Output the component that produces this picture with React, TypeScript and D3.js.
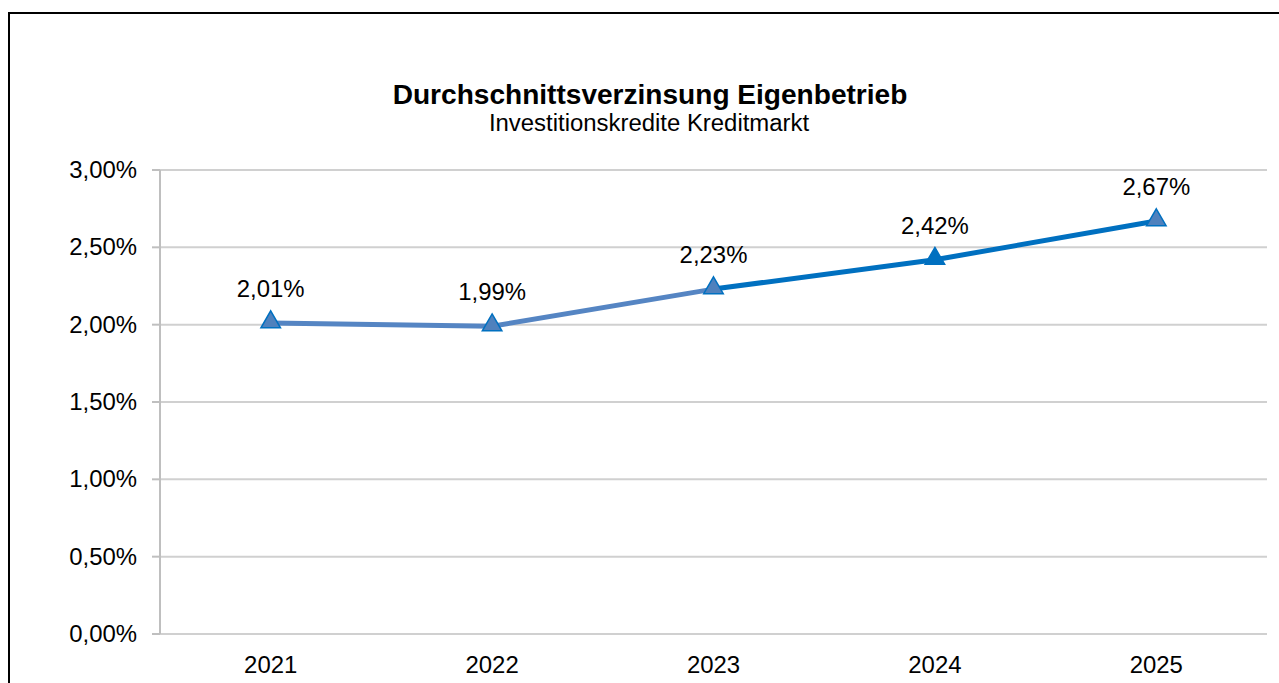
import React from "react";
import * as d3 from "d3";

const years = ["2021", "2022", "2023", "2024", "2025"];
const rates = [2.01, 1.99, 2.23, 2.42, 2.67];
const yTicks = [0, 0.5, 1, 1.5, 2, 2.5, 3];
const title = "Durchschnittsverzinsung Eigenbetrieb";
const subtitle = "Investitionskredite Kreditmarkt";

const W = 1279;
const H = 683;
const M = { left: 160, right: 1267, top: 170, bottom: 634 };
const FONT = "'Liberation Sans', Arial, sans-serif";
const SX = 1.04;
const segColor = (i: number) => (i < 2 ? "#5585C3" : "#0070C0");
const markerFill = (i: number) => (i === 3 ? "#0070C0" : "#4F81BD");

const fmt = (v: number) => v.toFixed(2).replace(".", ",") + "%";

function T({ x, y, anchor = "middle", size = 23, weight = "normal", sx = SX, children }: any) {
  return (
    <text
      transform={`translate(${x},${y}) scale(${sx},1)`}
      textAnchor={anchor}
      fontSize={size}
      fontWeight={weight}
      fontFamily={FONT}
      fill="#000"
    >
      {children}
    </text>
  );
}

export default function App() {
  const x = d3.scaleBand<string>().domain(years).range([M.left, M.right]);
  const y = d3.scaleLinear().domain([0, 3]).range([M.bottom, M.top]);
  const cx = (yr: string) => (x(yr) as number) + x.bandwidth() / 2;
  const pts = years.map((yr, i) => [cx(yr), y(rates[i])] as [number, number]);
  const tri = d3.symbol().type(d3.symbolTriangle).size(165);

  return (
    <svg width={W} height={H} style={{ position: "absolute", left: 0, top: 0, background: "#fff" }}>
      <rect x={9} y={13} width={1400} height={800} fill="#fff" stroke="#000" strokeWidth={2} />
      <T x={650} y={104} size={27} weight="bold">{title}</T>
      <T x={649} y={131} size={23}>{subtitle}</T>
      {yTicks.map((t) => (
        <g key={t}>
          <line x1={M.left} x2={M.right} y1={y(t)} y2={y(t)} stroke="#D0D0D0" strokeWidth={2} />
          <line x1={152} x2={M.left} y1={y(t)} y2={y(t)} stroke="#BFBFBF" strokeWidth={2} />
          <T x={137} y={y(t) + 8} anchor="end">{fmt(t)}</T>
        </g>
      ))}
      <line x1={M.left} x2={M.left} y1={M.top} y2={M.bottom} stroke="#BFBFBF" strokeWidth={2} />
      {years.map((yr) => (
        <T key={yr} x={cx(yr)} y={673}>{yr}</T>
      ))}
      {pts.slice(1).map((p, i) => (
        <line key={i} x1={pts[i][0]} y1={pts[i][1]} x2={p[0]} y2={p[1]} stroke={segColor(i)} strokeWidth={5} strokeLinecap="round" />
      ))}
      {pts.map((p, i) => (
        <path key={i} d={tri() as string} transform={`translate(${p[0]},${p[1] - 1})`} fill={markerFill(i)} stroke="#0070C0" strokeWidth={1.5} />
      ))}
      {pts.map((p, i) => (
        <T key={i} x={p[0]} y={p[1] - 26}>{fmt(rates[i])}</T>
      ))}
    </svg>
  );
}
